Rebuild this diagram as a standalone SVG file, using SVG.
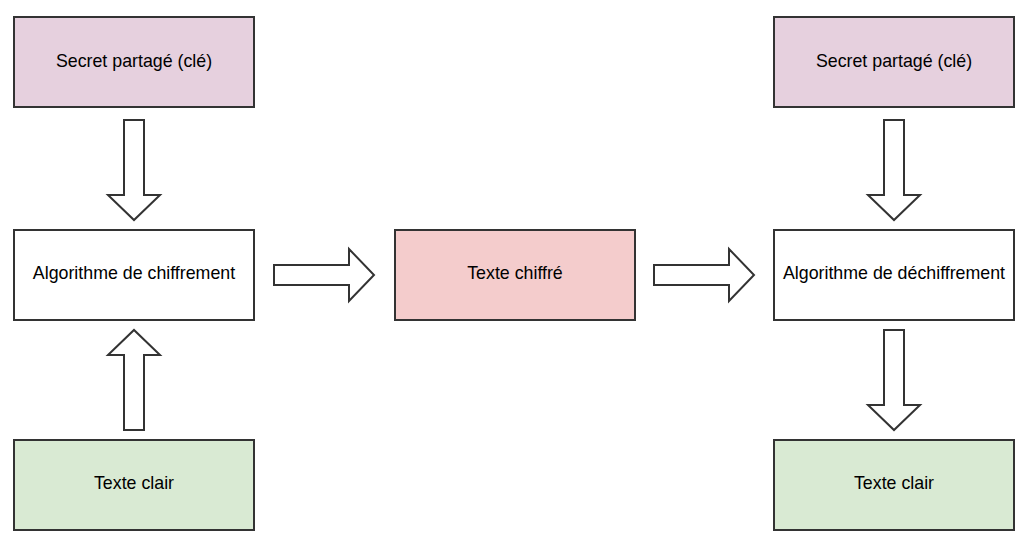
<svg xmlns="http://www.w3.org/2000/svg" width="1034" height="550" viewBox="0 0 1034 550">
<style>
.box{stroke:#333333;stroke-width:2}
.key{fill:#E6D0DE}
.alg{fill:#FFFFFF}
.ct{fill:#F4CCCC}
.pt{fill:#D9EAD3}
.lbl{font-family:"Liberation Sans",Arial,sans-serif;font-size:17.8px;fill:#000000;text-anchor:middle;dominant-baseline:central}
.arr{fill:#FFFFFF;stroke:#333333;stroke-width:2;stroke-linejoin:miter}
</style>
<rect width="1034" height="550" fill="#FFFFFF"/>
<g id="connectors">
<path class="arr" d="M124,120 H144 V195 H160 L134,220 L108,195 H124 Z"/>
<path class="arr" d="M124,430 H144 V355 H160 L134,330 L108,355 H124 Z"/>
<path class="arr" d="M274,265 V285 H349 V301 L374,275 L349,249 V265 Z"/>
<path class="arr" d="M654,265 V285 H729 V301 L754,275 L729,249 V265 Z"/>
<path class="arr" d="M884,120 H904 V195 H920 L894,220 L868,195 H884 Z"/>
<path class="arr" d="M884,330 H904 V405 H920 L894,430 L868,405 H884 Z"/>
</g>
<g id="key-left"><rect class="box key" x="14" y="17" width="240" height="90"/><text class="lbl" x="134" y="61">Secret partagé (clé)</text></g>
<g id="enc"><rect class="box alg" x="14" y="230" width="240" height="90"/><text class="lbl" x="134" y="273">Algorithme de chiffrement</text></g>
<g id="plain-left"><rect class="box pt" x="14" y="440" width="240" height="90"/><text class="lbl" x="134" y="483">Texte clair</text></g>
<g id="cipher"><rect class="box ct" x="395" y="230" width="240" height="90"/><text class="lbl" x="515" y="273">Texte chiffré</text></g>
<g id="key-right"><rect class="box key" x="774" y="17" width="240" height="90"/><text class="lbl" x="894" y="61">Secret partagé (clé)</text></g>
<g id="dec"><rect class="box alg" x="774" y="230" width="240" height="90"/><text class="lbl" x="894" y="273">Algorithme de déchiffrement</text></g>
<g id="plain-right"><rect class="box pt" x="774" y="440" width="240" height="90"/><text class="lbl" x="894" y="483">Texte clair</text></g>
</svg>
